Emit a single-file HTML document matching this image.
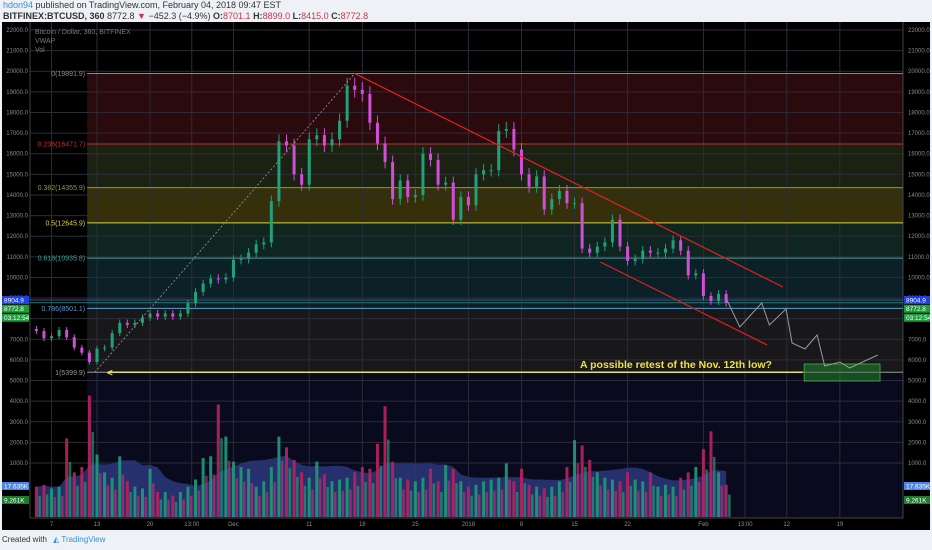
<!DOCTYPE html>
<html><head><meta charset="utf-8"><style>
html,body{margin:0;padding:0;width:932px;height:550px;overflow:hidden;background:#eef1f5;font-family:"Liberation Sans",sans-serif;}
#hdr{position:absolute;left:3px;top:0;font-size:9px;color:#333;line-height:11px;}
#hdr b{font-weight:bold}
.red{color:#d0344a}
#foot{position:absolute;left:2px;top:535px;font-size:8px;color:#333;}
svg{position:absolute;left:0;top:0}
</style></head><body>
<div id="hdr">
<div><span style="color:#3a8fd6">hdon94</span> published on TradingView.com, February 04, 2018 09:47 EST</div>
<div><b>BITFINEX:BTCUSD, 360</b> 8772.8 <span class="red">▼</span> −452.3 (−4.9%) <b>O:</b><span class="red">8701.1</span> <b>H:</b><span class="red">8899.0</span> <b>L:</b><span class="red">8415.0</span> <b>C:</b><span class="red">8772.8</span></div>
</div>
<svg id="chart" width="932" height="550" xmlns="http://www.w3.org/2000/svg"></svg>
<div id="foot">Created with <span style="color:#3a8fd6;margin-left:4px">◭ TradingView</span></div>
<script>
// daily closes Nov 5 2017 (day -8) .. Feb 4 2018 (day 83)
const startDay = -8;
const closes = [7400,7050,7150,7450,7100,6600,6350,5900,
6550,6600,7300,7800,7700,7800,8050,8250,8100,8250,
8100,8250,8750,9300,9700,9950,9900,10000,10850,10900,
11200,11600,11700,13700,16600,16400,15000,14500,16700,16900,
16400,16700,17600,19300,19100,18900,17500,16500,15600,13800,
14700,13900,14000,16000,15700,14500,14600,12800,13900,13500,
15000,15200,15200,17100,17200,16200,15000,14400,14900,13300,
13800,14200,13600,13600,11400,11200,11500,11700,12800,11500,
10800,10900,11300,11200,11200,11400,11800,11300,10100,10200,
9100,8850,9200,8772.8];
const firstOpen = 7500;
// daily volume (K)
const volumes = [17,18,16,17,44,25,28,68,
35,25,22,34,20,17,16,27,14,14,
12,14,17,21,33,34,63,45,31,28,
27,17,20,28,45,39,32,25,22,31,
24,20,21,22,25,28,27,41,62,31,
22,21,20,22,27,20,29,27,20,17,
18,20,21,22,30,20,27,18,17,16,
17,20,28,43,40,32,25,22,21,20,
25,21,20,25,17,18,17,22,25,28,
38,48,25,18];
const priceTicks = [22000,21000,20000,19000,18000,17000,16000,15000,14000,13000,12000,11000,10000,9000,8000,7000,6000,5000,4000,3000,2000,1000];
const timeLabels = ["7","13","20","13:00","Dec","11","18","25","2018","8","15","22","Feb","13:00","12","19"];
const timeDays = [-6,0,7,12.5,18,28,35,42,49,56,63,70,80,85.5,91,98];
const fibRatios = [0,0.236,0.382,0.5,0.618,0.786,1];
const fibHigh = 19891.9, fibLow = 5399.9;
const projDays = [83.1,84.8,87.7,88.7,90.9,91.7,93.4,95.0,96.0,98.0,99.3,103.0];
const projPrices = [8906,7597,8760,7693,8469,6820,6530,7209,5705,5899,5608,6239];

const X = d => 97 + d*7.58;
const Y = p => 30 + (22000-p)*0.02062;
const VB = 517, VY = v => VB - v*1.786;
const L = 30, R = 903, T = 22, B = 518;
const svg = document.getElementById('chart');
const NS = 'http://www.w3.org/2000/svg';
function mk(tag, at, parent){const e=document.createElementNS(NS,tag);for(const k in at)e.setAttribute(k,at[k]);(parent||svg).appendChild(e);return e;}
function txt(s, at, parent){const e=mk('text',at,parent);e.textContent=s;return e;}

let e;
e = mk('rect',{x:2,y:T,width:928,height:B-T+12,fill:'#000'});


const fibColors = ['#2a0a0c','#1c2212','#35300a','#0f2620','#0c2028','#18181b'];
const lineColors = ['#888','#c0303a','#8a9a40','#e0d040','#3aa090','#5a9ad0','#999'];
const fibX = X(-1.3);
const fibP = fibRatios.map(r => fibHigh - r*(fibHigh-fibLow));
for(let i=0;i<6;i++){
  e = mk('rect',{x:fibX,y:Y(fibP[i]),width:R-fibX,height:Y(fibP[i+1])-Y(fibP[i]),fill:fibColors[i]});
  
  
}
e = mk('rect',{x:fibX,y:Y(fibLow),width:R-fibX,height:B-Y(fibLow),fill:'#0a0a1f'});


priceTicks.forEach(p=>{
  e = mk('line',{x1:L,x2:R,y1:Y(p),y2:Y(p),stroke:'#2c2c36','stroke-width':1});
  
  
  e = txt(p.toFixed(1),{x:28,y:Y(p)+2,'font-size':6,fill:'#8a8a8a','text-anchor':'end'});
  
  
  e = txt(p.toFixed(1),{x:908,y:Y(p)+2,'font-size':6,fill:'#8a8a8a'});
  
  
});
timeDays.forEach((d,i)=>{
  e = mk('line',{x1:X(d),x2:X(d),y1:T,y2:B,stroke:'#2c2c36','stroke-width':1});
  
  
  e = txt(timeLabels[i],{x:X(d),y:526,'font-size':6,fill:'#8a8a8a','text-anchor':'middle'});
  
  
});
e = mk('line',{x1:L,x2:L,y1:T,y2:B,stroke:'#444'});


e = mk('line',{x1:R,x2:R,y1:T,y2:B,stroke:'#444'});


e = mk('line',{x1:L,x2:R,y1:B,y2:B,stroke:'#444'});


fibRatios.forEach((r,i)=>{
  const y = Y(fibP[i]);
  e = mk('line',{x1:fibX,x2:R,y1:y,y2:y,stroke:lineColors[i],'stroke-width':1});
  
  
  e = txt(r+'('+(Math.floor(fibP[i]*10+1e-6)/10).toFixed(1)+')',{x:fibX-2,y:y+2.5,'font-size':7,fill:lineColors[i],'text-anchor':'end'});
  
  
});
e = mk('line',{x1:L,x2:R,y1:Y(8904.9),y2:Y(8904.9),stroke:'#3050c0','stroke-width':1});


e = mk('line',{x1:L,x2:R,y1:Y(8772.8),y2:Y(8772.8),stroke:'#2a7a50','stroke-width':1});


const ma = volumes.map((v,i)=>{let s=0,n=0;for(let j=Math.max(0,i-9);j<=i;j++){s+=volumes[j];n++;}return s/n;});
let pd = 'M'+X(startDay)+','+VB;
ma.forEach((m,i)=>{pd+=' L'+X(startDay+i)+','+VY(m);});
pd += ' L'+X(startDay+ma.length-1)+','+VB+' Z';
e = mk('path',{d:pd,fill:'#2c3a80',opacity:0.8});


closes.forEach((c,i)=>{
  const o = i===0 ? firstOpen : closes[i-1];
  const up = c>=o, x = X(startDay+i);
  const vb = mk('rect',{x:x-1.5,y:VY(volumes[i]),width:3,height:VB-VY(volumes[i]),fill:up?'#1f9a78':'#b8245e',opacity:0.9});
  
  
  const vb2 = mk('rect',{x:x+2,y:VY(volumes[i]*0.7),width:2.5,height:VB-VY(volumes[i]*0.7),fill:up?'#b8307a':'#1f9a78',opacity:0.7});
  
  
  const hi = Math.max(o,c)*1.02, lo = Math.min(o,c)*0.98;
  const col = up ? '#22a07a' : '#d04ed8';
  const w = mk('line',{x1:x,x2:x,y1:Y(hi),y2:Y(lo),stroke:col,'stroke-width':1});
  
  
  const b = mk('rect',{x:x-1.5,y:Y(Math.max(o,c)),width:3,height:Math.max(1,Math.abs(Y(o)-Y(c))),fill:col});
  
  
});
e = mk('line',{x1:X(-0.3),y1:Y(fibLow),x2:X(34),y2:Y(fibHigh),stroke:'#999','stroke-dasharray':'2,2','stroke-width':0.8});


e = mk('line',{x1:X(34),y1:Y(fibHigh),x2:X(90.5),y2:Y(9536),stroke:'#e02020','stroke-width':1.2});


e = mk('line',{x1:X(66.4),y1:Y(10749),x2:X(88.4),y2:Y(6724),stroke:'#e02020','stroke-width':1.2});


e = mk('line',{x1:X(1.5),y1:Y(fibLow),x2:X(93.1),y2:Y(fibLow),stroke:'#e8e070','stroke-width':1.5});


e = txt('<',{x:X(1.3),y:Y(fibLow)+3.5,'font-size':10,'font-weight':'bold',fill:'#f0e040'});


e = txt('A possible retest of the Nov. 12th low?',{x:580,y:368,'font-size':10.5,'font-weight':'bold',fill:'#f0e040'});


e = mk('rect',{x:X(93.3),y:Y(5802),width:X(103.3)-X(93.3),height:Y(4978)-Y(5802),fill:'rgba(40,140,50,0.5)',stroke:'#3a9a40'});


e = mk('polyline',{points:projDays.map((d,i)=>X(d)+','+Y(projPrices[i])).join(' '),fill:'none',stroke:'#999','stroke-width':1});


['Bitcoin / Dollar, 360, BITFINEX','VWAP','Vol'].forEach((s,i)=>{
  e = txt(s,{x:35,y:34+i*9,'font-size':7,fill:'#777'});
  
  
});
function tag(x,y,w,fill,label,name){
  const g = mk('g',{});
  
  
  mk('rect',{x:x,y:y,width:w,height:8,fill:fill},g);
  txt(label,{x:x+2,y:y+6.5,'font-size':6.5,fill:'#fff'},g);
}
tag(2,Y(8904.9)-4,27,'#2040e0','8904.9','left-high-tag');
tag(2,Y(8772.8)+2,27,'#1e9b3b','8772.8','left-last-tag');
tag(2,Y(8772.8)+11,27,'#1e9b3b','03:12:54','left-countdown-tag');
tag(904,Y(8904.9)-4,26,'#2040e0','8904.9','right-high-tag');
tag(904,Y(8772.8)+2,26,'#1e9b3b','8772.8','right-last-tag');
tag(904,Y(8772.8)+11,26,'#1e9b3b','03:12:54','right-countdown-tag');
tag(2,482,27,'#4a86e8','17.635K','left-volume-ma-tag');
tag(2,496,27,'#1e7b2b','9.261K','left-volume-tag');
tag(904,482,26,'#4a86e8','17.635K','right-volume-ma-tag');
tag(904,496,26,'#1e7b2b','9.261K','right-volume-tag');
</script>
</body></html>
